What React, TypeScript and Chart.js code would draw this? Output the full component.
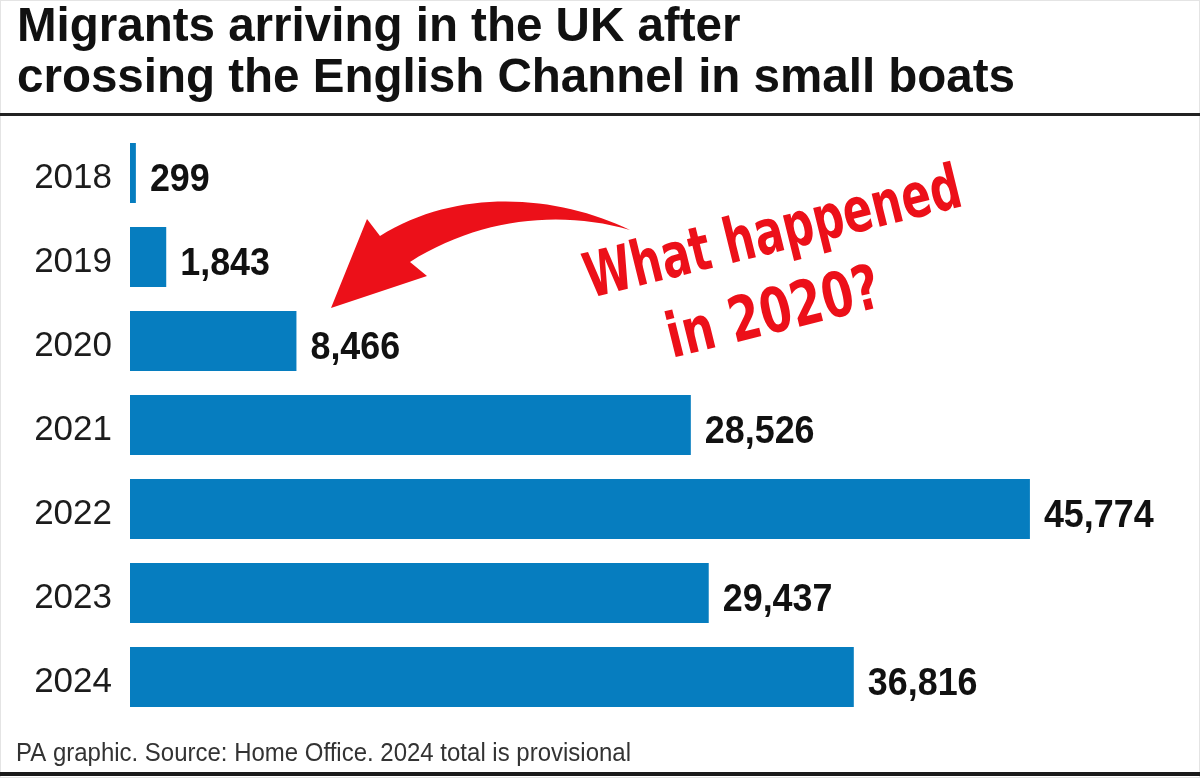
import React, { useEffect, useRef } from "react";
import { Chart, registerables } from "chart.js";

Chart.register(...registerables);

const years = ["2018", "2019", "2020", "2021", "2022", "2023", "2024"];
const arrivals = [299, 1843, 8466, 28526, 45774, 29437, 36816];
const valueLabels = ["299", "1,843", "8,466", "28,526", "45,774", "29,437", "36,816"];
const titleLines = ["Migrants arriving in the UK after", "crossing the English Channel in small boats"];
const footerText = "PA graphic. Source: Home Office. 2024 total is provisional";
const annotationLines = ["What happened", "in 2020?"];

const W = 1200;
const H = 778;
const BAR_BLUE = "#067dbf";
const RED = "#ec1019";

function fitText(ctx: CanvasRenderingContext2D, text: string, x: number, y: number, font: string, scaleX: number) {
  ctx.save();
  ctx.font = font;
  ctx.translate(x, y);
  ctx.scale(scaleX, 1);
  ctx.fillText(text, 0, 0);
  ctx.restore();
}

const decorPlugin = {
  id: "decor",
  beforeDraw(chart: any) {
    const ctx = chart.ctx as CanvasRenderingContext2D;
    ctx.save();
    ctx.fillStyle = "#ffffff";
    ctx.fillRect(0, 0, W, H);
    ctx.strokeStyle = "#e4e4e4";
    ctx.lineWidth = 1;
    ctx.strokeRect(0.5, 0.5, W - 1, H - 1);
    ctx.restore();
  },
  afterDatasetsDraw(chart: any) {
    const ctx = chart.ctx as CanvasRenderingContext2D;
    const meta = chart.getDatasetMeta(0);
    ctx.save();
    ctx.fillStyle = "#111111";
    ctx.textBaseline = "alphabetic";
    ctx.textAlign = "left";
    meta.data.forEach((bar: any, i: number) => {
      fitText(ctx, valueLabels[i], bar.x + 14, bar.y + 18, "bold 39px 'Liberation Sans', Arial, sans-serif", 0.92);
    });
    ctx.restore();
  },
  afterDraw(chart: any) {
    const ctx = chart.ctx as CanvasRenderingContext2D;
    ctx.save();
    // Title
    ctx.fillStyle = "#111111";
    ctx.textBaseline = "alphabetic";
    const tFont = "bold 48px 'Liberation Sans', Arial, sans-serif";
    ctx.font = tFont;
    const w2 = ctx.measureText(titleLines[1]).width;
    const s = 998 / w2;
    fitText(ctx, titleLines[0], 17, 41, tFont, s);
    fitText(ctx, titleLines[1], 17, 92, tFont, s);
    // rule under title
    ctx.fillStyle = "#222222";
    ctx.fillRect(0, 113, W, 3);
    // footer
    ctx.fillStyle = "#333333";
    const fFont = "25px 'Liberation Sans', Arial, sans-serif";
    ctx.font = fFont;
    const fw = ctx.measureText(footerText).width;
    fitText(ctx, footerText, 16, 761, fFont, 615 / fw);
    // bottom rule
    ctx.fillStyle = "#1a1a1a";
    ctx.fillRect(0, 772, W, 4);

    // Red arrow
    ctx.fillStyle = RED;
    ctx.beginPath();
    ctx.moveTo(630, 230);
    ctx.bezierCurveTo(560, 196, 460, 186, 380, 236);
    ctx.lineTo(367, 219);
    ctx.lineTo(331, 308);
    ctx.lineTo(427, 276);
    ctx.lineTo(410, 262);
    ctx.bezierCurveTo(480, 218, 560, 210, 630, 230);
    ctx.closePath();
    ctx.fill();

    // Annotation text
    const aFont = "bold 62px 'DejaVu Sans', sans-serif";
    ctx.font = aFont;
    const angle = Math.atan2(-92, 373);
    const a1w = ctx.measureText(annotationLines[0]).width;
    ctx.save();
    ctx.translate(590, 298);
    ctx.rotate(angle);
    ctx.scale(386 / a1w, 1);
    ctx.fillText(annotationLines[0], 0, 0);
    ctx.restore();
    const a2w = ctx.measureText(annotationLines[1]).width;
    ctx.save();
    ctx.translate(672, 358);
    ctx.rotate(angle);
    ctx.scale(218 / a2w, 1);
    ctx.fillText(annotationLines[1], 0, 0);
    ctx.restore();

    ctx.restore();
  },
};

export default function App() {
  const canvasRef = useRef<HTMLCanvasElement | null>(null);

  useEffect(() => {
    document.body.style.margin = "0";
    const canvas = canvasRef.current;
    if (!canvas) return;
    const chart = new Chart(canvas, {
      type: "bar",
      data: {
        labels: years,
        datasets: [
          {
            data: arrivals,
            backgroundColor: BAR_BLUE,
            borderWidth: 0,
            barPercentage: 0.714,
            categoryPercentage: 1,
          },
        ],
      },
      options: {
        indexAxis: "y",
        responsive: false,
        animation: false,
        devicePixelRatio: 1,
        layout: { padding: { left: 0, right: 87, top: 131, bottom: 59 } },
        plugins: {
          legend: { display: false },
          tooltip: { enabled: false },
          title: { display: false },
        },
        scales: {
          x: {
            display: false,
            min: 0,
            max: 50000,
          },
          y: {
            grid: { display: false, drawTicks: false },
            border: { display: false },
            ticks: {
              color: "#1c1c1c",
              padding: 18,
              labelOffset: 5,
              font: { family: "'Liberation Sans', Arial, sans-serif", size: 35 },
            },
            afterFit: (scale: any) => {
              scale.width = 130;
            },
          },
        },
      },
      plugins: [decorPlugin],
    });
    return () => chart.destroy();
  }, []);

  return (
    <div style={{ position: "absolute", left: 0, top: 0, width: W, height: H }}>
      <canvas ref={canvasRef} width={W} height={H} style={{ display: "block", width: W, height: H }} />
    </div>
  );
}
